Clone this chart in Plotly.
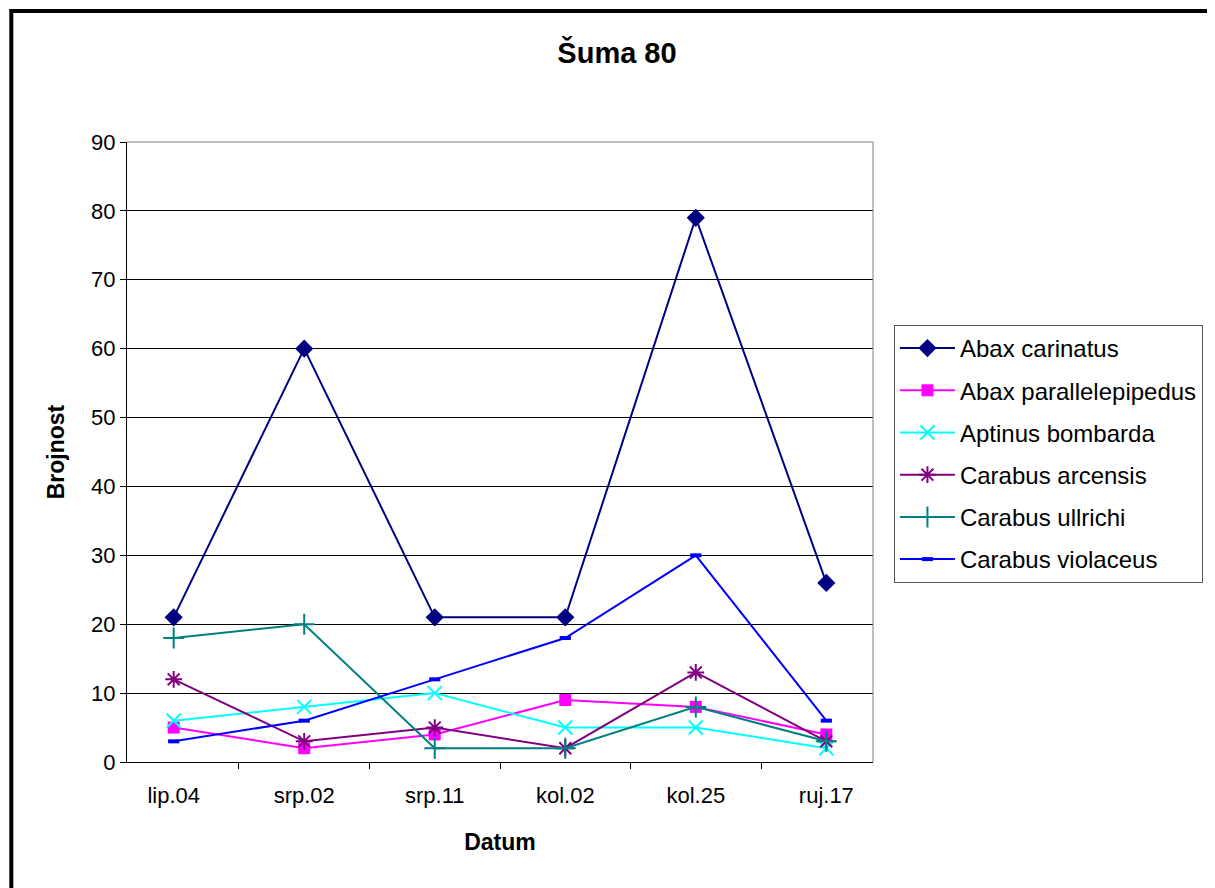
import plotly.graph_objects as go

categories = ["lip.04", "srp.02", "srp.11", "kol.02", "kol.25", "ruj.17"]
abax_carinatus = [21, 60, 21, 21, 79, 26]
abax_parallelepipedus = [5, 2, 4, 9, 8, 4]
aptinus_bombarda = [6, 8, 10, 5, 5, 2]
carabus_arcensis = [12, 3, 5, 2, 13, 3]
carabus_ullrichi = [18, 20, 2, 2, 8, 3]
carabus_violaceus = [3, 6, 12, 18, 30, 6]
y_ticks = [0, 10, 20, 30, 40, 50, 60, 70, 80, 90]

series = [
    ("Abax carinatus", abax_carinatus, "#000080", dict(symbol="diamond", size=14, color="#000080")),
    ("Abax parallelepipedus", abax_parallelepipedus, "#FF00FF", dict(symbol="square", size=12, color="#FF00FF")),
    ("Aptinus bombarda", aptinus_bombarda, "#00FFFF", dict(symbol="x-thin-open", size=14, color="#00FFFF", line=dict(color="#00FFFF", width=2))),
    ("Carabus arcensis", carabus_arcensis, "#800080", dict(symbol="asterisk-open", size=14, color="#800080", line=dict(color="#800080", width=2))),
    ("Carabus ullrichi", carabus_ullrichi, "#008080", dict(symbol="cross-thin-open", size=15, color="#008080", line=dict(color="#008080", width=2))),
    ("Carabus violaceus", carabus_violaceus, "#0000FF", dict(symbol="line-ew-open", size=8, color="#0000FF", line=dict(color="#0000FF", width=4))),
]

fig = go.Figure()
for i, (name, vals, col, mk) in enumerate(series):
    fig.add_trace(go.Scatter(
        x=categories, y=vals, name=name, mode="lines+markers",
        line=dict(color=col, width=2), marker=mk, legendgroup=f"g{i}",
    ))

W, H = 1207, 880
L, T = 119, 134
PW, PH = 748, 620
FONT = "Liberation Sans, Arial, sans-serif"
fig.update_layout(
    width=W, height=H,
    margin=dict(l=L, r=W - L - PW, t=T, b=H - T - PH),
    paper_bgcolor="white", plot_bgcolor="white",
    font=dict(family=FONT, color="black", size=22),
    title=dict(text="<b>Šuma 80</b>", x=609/W, xref="container", xanchor="center",
               y=1-45/H, yref="container", yanchor="middle", font=dict(size=29)),
    showlegend=True,
    legend=dict(x=(888-L)/PW, xanchor="left", y=(T+PH-317)/PH, yanchor="top",
                bordercolor="#555555", borderwidth=1, bgcolor="white",
                font=dict(size=24), traceorder="grouped", tracegroupgap=8,
                itemwidth=55),
    xaxis=dict(type="category", tickson="boundaries", ticks="outside", ticklen=6,
               tickcolor="black", showline=True, linecolor="black", linewidth=1,
               showgrid=False, tickfont=dict(size=22), ticklabelstandoff=14,
               title=dict(text="<b>Datum</b>", font=dict(size=23), standoff=26)),
    yaxis=dict(range=[0, 90], tickvals=y_ticks, ticks="outside", ticklen=6,
               tickcolor="black", showline=True, linecolor="black", linewidth=1,
               showgrid=True, gridcolor="black", gridwidth=1, zeroline=False,
               tickfont=dict(size=22),
               title=dict(text="<b>Brojnost</b>", font=dict(size=23), standoff=20)),
    shapes=[
        dict(type="line", xref="x domain", yref="y domain", x0=0, x1=1, y0=1, y1=1,
             line=dict(color="#808080", width=1), layer="above"),
        dict(type="line", xref="x domain", yref="y domain", x0=1, x1=1, y0=0, y1=1,
             line=dict(color="#808080", width=1), layer="above"),
        dict(type="rect", xref="paper", yref="paper",
             x0=(3-L)/PW, x1=(1240-L)/PW, y0=(T+PH-910)/PH, y1=(T+PH-3)/PH,
             line=dict(color="black", width=4), fillcolor="rgba(0,0,0,0)", layer="above"),
    ],
)

fig.write_html("out.html")
